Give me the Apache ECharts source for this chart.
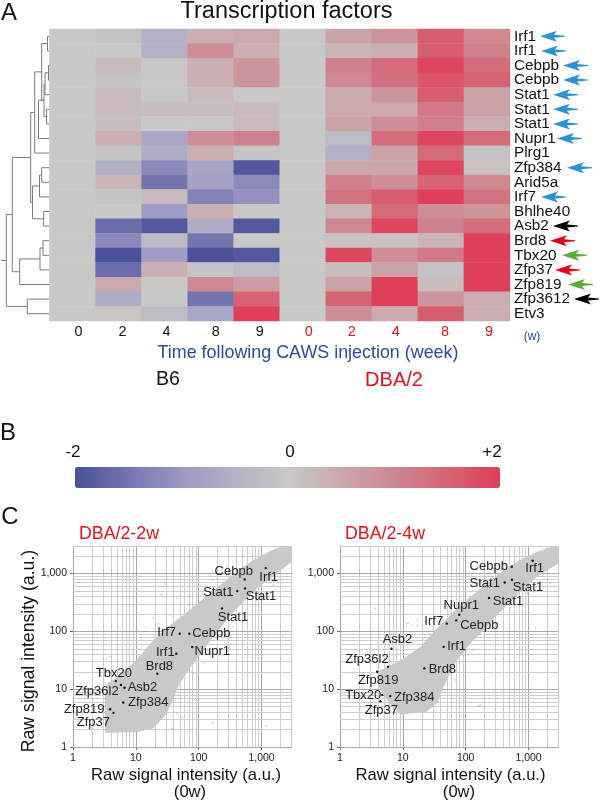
<!DOCTYPE html>
<html><head><meta charset="utf-8">
<style>html,body{margin:0;padding:0;background:#fff}#c{width:600px;height:802px}</style>
<script src="https://cdn.jsdelivr.net/npm/echarts@6/dist/echarts.min.js"></script>
</head><body><div id="c"></div>
<script>
const genes=['Irf1','Irf1','Cebpb','Cebpb','Stat1','Stat1','Stat1','Nupr1','Plrg1','Zfp384','Arid5a','Irf7','Bhlhe40','Asb2','Brd8','Tbx20','Zfp37','Zfp819','Zfp3612','Etv3'];
const weeks=['0','2','4','8','9','0','2','4','8','9'];
const b6=[
[0,-.15,-.5,.4,.5],[0,0,-.5,.9,.4],[0,.2,0,.4,.8],[0,-.1,0,.4,.8],[0,.2,-.03,.2,0],
[0,.2,.15,.15,.2],[0,.15,0,0,.2],[0,.4,-.7,.9,1.1],[0,-.1,-.6,.4,-.1],[0,-.5,-1.2,-.7,-1.9],
[0,.3,-1.5,-.8,-1.2],[0,-.1,.2,-1.3,-1.1],[0,0,-.9,.4,0],[0,-1.6,-1.9,-.6,-1.9],[0,-1.2,-.3,-1.5,0],
[0,-2,-.9,-2,-1.9],[0,-1.6,.4,-.1,-.3],[0,.5,0,1,.7],[0,-.6,0,-1.5,1.5],[0,.05,-.3,-.7,2]];
const dba=[
[0,.6,.8,1.6,1],[0,.3,.4,1.6,1.1],[0,1.1,1.4,1.9,1.4],[0,1,1.3,1.7,1.5],[0,.5,.8,1.6,.6],
[0,.5,.5,1.2,.6],[0,.6,.9,1.1,.4],[0,-.3,1.4,1.9,1.4],[0,-.5,.6,1.4,-.15],[0,.5,.5,1.9,.1],
[0,1.1,.9,1.5,1],[0,1.3,1.6,2,1.3],[0,.3,1.4,.9,.8],[0,1,1.9,1.1,1.4],[0,.1,.1,.3,2],
[0,1.9,.9,1.2,2],[0,.15,.6,-.15,2],[0,.6,2,.2,2],[0,1.5,2,.8,.4],[0,.9,.5,1.6,.4]];
const mergeLeft=[0,2,5,4,22,20,24,25,9,12,28,30,27,14,33,34,32,18,36];
const mergeRight=[1,3,6,21,23,24,7,8,10,13,11,29,31,15,16,17,35,19,37];
const mergeHeight=[2,1,3,4.5,5.5,7.8,11,14.8,7.8,5.8,10,17,18.8,6.5,9.5,29.8,37.2,22.2,43.2];
const arrowRows=[0,1,2,3,4,5,6,7,9,11,13,14,15,16,17,18];
const arrowTips=[540,541,563,563,553,553,553,557,567,541,553,550,562,555,568,574];
const arrowColors=['#2a93d5','#2a93d5','#2a93d5','#2a93d5','#2a93d5','#2a93d5','#2a93d5','#2a93d5','#2a93d5','#2a93d5','#000000','#e3001b','#55b030','#e3001b','#55b030','#000000'];
const decadeLines=[1,10,100,1000];
const minorLines=[2,3,4,5,6,7,8,9,20,30,40,50,60,70,80,90,200,300,400,500,600,700,800,900,2000,3000];
const cloud2w=[[3.23,7.4],[3.52,12.6],[5.6,17.6],[10.3,32],[19,71],[35,129],[57,191],[119,372],[219,632],[403,1075],[741,1711],[1365,2450],[2225,2990],[3000,3000],[3000,1602],[2225,1228],[1365,825],[741,485],[403,250],[219,113],[119,47.5],[73,23],[50,12.6],[38,6.2],[31,3.8],[19,2.1],[10.3,1.8],[3.23,1.77]];
const cloud4w=[[4.12,11],[3.88,20],[6.3,26],[10.3,34],[19,54],[35,113],[57,191],[119,398],[219,676],[403,1148],[741,1711],[1365,2386],[2512,3000],[3000,3000],[3000,1500],[2225,1228],[1365,881],[838,554],[514,326],[315,191],[193,105],[119,62],[73,32],[57,18.8],[44.6,11],[35,5.7],[24,4.08],[9.1,3.62],[5.6,6.5]];
const stray2w=[[94,2115],[28.8,658],[25.5,430],[5.2,122],[1268,87.5],[2140,82],[1194,2.3],[169,2.7],[55,3.26],[37,2.1],[18.8,170],[2640,1620],[1950,1164],[158,39.5],[25.8,437],[60.5,157],[3.9,36.5],[3.4,32.8],[167,2.6],[1208,2.3],[12.4,71],[9.1,47.5],[6.7,30],[14.8,117],[22.8,137],[35,191],[44.6,372],[68,285],[119,519],[171,772],[278,1312],[403,1711],[648,2232],[2500,881],[2860,1007],[1545,631],[830,348],[515,191],[355,120],[219,71],[119,28],[82,18.8],[60,7.4],[44.6,3.8],[37,2.1]];
const stray4w=[[3.56,250],[11.6,137],[14,129],[16.8,157],[3.6,253],[12.2,139],[17,126],[159,5.2],[1270,114],[2190,74],[1236,5.9],[21,71],[27,92],[44.6,157],[50,285],[93,427],[171,724],[278,1230],[648,1950],[2225,676],[2660,1007],[2512,1500],[1545,724],[950,454],[515,250],[315,137],[193,81],[133,47.5],[93,26],[68,14.4],[60,7.9],[171,5.3],[35,4.4]];
const names2w=['Irf1','Cebpb','Stat1','Stat1','Stat1','Irf7','Cebpb','Nupr1','Irf1','Brd8','Tbx20','Zfp36l2','Asb2','Zfp384','Zfp819','Zfp37'];
const points2w=[[1165,1245],[540,793],[412,498],[546,554],[235,250],[49.9,91],[71,91],[79,53.6],[44,41],[22,18.5],[4.8,13.8],[5.8,11.8],[6.6,10.6],[6.3,5.9],[3.9,4.5],[4.4,3.9]];
const offsets2w=[[3,9],[-11,-8],[-19,1],[16,8],[11,9],[-13,-1],[22,0],[20,4],[-11,-1],[2,-7],[-2,-8],[-24,6],[18,0],[25,0],[-26,0],[-20,10]];
const names4w=['Irf1','Cebpb','Stat1','Stat1','Stat1','Nupr1','Irf7','Cebpb','Irf1','Asb2','Zfp36l2','Zfp819','Brd8','Tbx20','Zfp384','Zfp37'];
const points4w=[[1165,1667],[540,1313],[418,703],[546,782],[235,377],[79,194],[50,136],[71,155],[44.6,54],[6.6,50],[5.8,24.5],[3.9,20],[22,22.9],[4.7,7.9],[6.3,7.6],[4.4,6.2]];
const offsets4w=[[2,8],[-23,0],[-20,1],[16,8],[19,3],[2,-9],[-13,-2],[23,5],[13,0],[6,-9],[-21,-7],[1,9],[18,1],[-19,0],[24,1],[1,9]];
const weekShift=[6,4,2,5,3,6,3,1,4,2];

const FONT='"Liberation Sans",Arial,sans-serif';
const heat=[];
genes.forEach((g,r)=>{b6[r].forEach((v,c)=>heat.push([c,r,v]));dba[r].forEach((v,c)=>heat.push([c+5,r,v]));});

// dendrogram: resolve merges into bracket segments
const nodeY={},nodeH={};
genes.forEach((g,i)=>{nodeY[i]=i+.5;nodeH[i]=0;});
const brackets=mergeLeft.map((l,i)=>{
  const r=mergeRight[i],id=genes.length+i;
  nodeH[id]=mergeHeight[i];nodeY[id]=(nodeY[l]+nodeY[r])/2;
  return [nodeH[l],nodeY[l],nodeH[r],nodeY[r],mergeHeight[i]];
});
const rootIdx=brackets.length-1;
function dendroItem(p,api){
  const b=brackets[p.dataIndex],a=api.coord([b[0],b[1]]),c=api.coord([b[4],b[1]]),d=api.coord([b[4],b[3]]),e=api.coord([b[2],b[3]]);
  const children=[{type:'polyline',shape:{points:[a,c,d,e]},style:{stroke:'#7d7d7d',lineWidth:1,fill:null}}];
  if(p.dataIndex===rootIdx){
    const m=(b[1]+b[3])/2;
    children.push({type:'line',shape:{x1:api.coord([b[4],m])[0],y1:api.coord([b[4],m])[1],x2:api.coord([48.5,m])[0],y2:api.coord([48.5,m])[1]},style:{stroke:'#7d7d7d',lineWidth:1}});
  }
  return {type:'group',children};
}
const cloudItem=pts=>(p,api)=>p.dataIndex===0?{type:'polygon',shape:{points:pts.map(q=>api.coord(q))},style:{fill:'#c9c9c9'}}:null;

function gridLines(){
  const mk=(axis,v,major)=>({[axis]:v,lineStyle:{color:major?'#a8a8a8':'#cdcdcd',width:1,type:'solid',opacity:1}});
  const d=[];
  ['xAxis','yAxis'].forEach(a=>{minorLines.forEach(v=>d.push(mk(a,v,false)));decadeLines.forEach(v=>d.push(mk(a,v,true)));});
  return d;
}
function panelSeries(idx,cloud,stray,pts,names,offsets){
  return [
   {type:'scatter',xAxisIndex:idx,yAxisIndex:idx,data:[],z:1,silent:true,
    markLine:{z:1,silent:true,symbol:'none',animation:false,label:{show:false},data:gridLines()}},
   {type:'custom',xAxisIndex:idx,yAxisIndex:idx,data:cloud,z:2,silent:true,renderItem:cloudItem(cloud),encode:{x:0,y:1}},
   {type:'scatter',xAxisIndex:idx,yAxisIndex:idx,data:stray,z:3,silent:true,symbolSize:1.6,itemStyle:{color:'#c4c4c4',opacity:1}},
   {type:'scatter',xAxisIndex:idx,yAxisIndex:idx,z:4,silent:true,symbolSize:2.4,itemStyle:{color:'#111',opacity:1},
    data:pts.map((v,i)=>({value:v,name:names[i],label:{show:true,position:'inside',offset:offsets[i],formatter:names[i],color:'#222',fontSize:13,fontFamily:FONT}}))}
  ];
}
const hidden={show:false};
const tickLabel={color:'#222',fontSize:10.5,fontFamily:FONT,margin:6,showMaxLabel:false,hideOverlap:false,
    formatter:v=>decadeLines.includes(Math.round(v))?Math.round(v).toLocaleString('en-US'):''};
const logAxis=gi=>({type:'log',logBase:10,gridIndex:gi,min:1,max:3000,splitLine:hidden,minorTick:hidden,
  axisLine:{show:true,onZero:false,lineStyle:{color:'#a8a8a8'}},axisTick:{show:true,length:3,lineStyle:{color:'#666'}},
  axisLabel:tickLabel});
const rich={};
weekShift.forEach((s,i)=>{rich['t'+i]={color:i<5?'#111':'#e3101f',fontSize:14.4,fontFamily:FONT,padding:[0,0,0,2*s]};});

const txt=(t,x,y,size,color,align,rot)=>({type:'text',x,y,rotation:rot||0,silent:true,
  style:{text:t,fontSize:size,fontFamily:FONT,fill:color,textAlign:align||'center',textVerticalAlign:'middle'}});
const BLUE='#2a4ba0',RED='#e3101f';

const option={
 animation:false,backgroundColor:'#fff',
 grid:[
  {left:0,top:29,width:49.5,height:292},
  {left:49.5,top:29,width:460.5,height:292},
  {left:510,top:29,width:90,height:292},
  {left:73,top:546,width:218.5,height:201},
  {left:340,top:546,width:218.5,height:201}],
 xAxis:[
  {type:'value',gridIndex:0,min:0,max:49.5,inverse:true,show:false},
  {type:'category',gridIndex:1,data:weeks,axisLine:hidden,axisTick:hidden,splitLine:hidden,
   axisLabel:{interval:0,margin:4,formatter:(v,i)=>`{t${i}|${v}}`,rich}},
  {type:'value',gridIndex:2,min:510,max:600,show:false},
  logAxis(3),logAxis(4)],
 yAxis:[
  {type:'value',gridIndex:0,min:0,max:20,inverse:true,show:false},
  {type:'category',gridIndex:1,data:genes,inverse:true,position:'right',axisLine:hidden,axisTick:hidden,splitLine:hidden,
   axisLabel:{interval:0,margin:4,color:'#111',fontSize:15.3,fontFamily:FONT}},
  {type:'category',gridIndex:2,data:genes,inverse:true,show:false},
  logAxis(3),logAxis(4)],
 visualMap:{type:'continuous',seriesIndex:1,min:-2,max:2,orient:'horizontal',left:75,top:467,itemWidth:21,itemHeight:425,padding:0,
   calculable:false,hoverLink:false,realtime:false,text:null,showLabel:false,
   inRange:{color:['#4a5199','#9c98c4','#c8c8c6','#cd8891','#df3f58']}},
 series:[
  {type:'custom',xAxisIndex:0,yAxisIndex:0,data:brackets,renderItem:dendroItem,silent:true,clip:false},
  {type:'heatmap',xAxisIndex:1,yAxisIndex:1,data:heat,silent:true,progressive:0},
  {type:'scatter',xAxisIndex:2,yAxisIndex:2,silent:true,symbol:'path://M0,5.5 L17,0 L14,4 L25,5 L25,6 L14,7 L17,11 Z',symbolSize:[25,11],symbolOffset:[12.5,0],
   data:arrowTips.map((x,i)=>({value:[x,arrowRows[i]],itemStyle:{color:arrowColors[i],opacity:1}}))},
  ...panelSeries(3,cloud2w,stray2w,points2w,names2w,offsets2w),
  ...panelSeries(4,cloud4w,stray4w,points4w,names4w,offsets4w)
 ],
 graphic:[
  txt('A',9,13,24,'#111'),
  txt('Transcription factors',286.5,12,23.5,'#111'),
  txt('Time following CAWS injection (week)',308,353,17.9,BLUE),
  txt('(w)',532,337,12,BLUE),
  txt('B6',168,380,19.6,'#111'),
  txt('DBA/2',394,380,20,RED),
  txt('B',8,433,24,'#111'),
  txt('-2',73,452,17,'#111'),
  txt('0',290,452,17,'#111'),
  txt('+2',492,452,17,'#111'),
  txt('C',10,517,24,'#111'),
  txt('DBA/2-2w',119,534,17.8,RED),
  txt('DBA/2-4w',385,534,17.8,RED),
  txt('Raw signal intensity (a.u.)',29,651,17.7,'#111','center',Math.PI/2),
  txt('Raw signal intensity (a.u.)',186,775,16.6,'#111'),
  txt('(0w)',190,792,16.6,'#111'),
  txt('Raw signal intensity (a.u.)',450.5,775,16.6,'#111'),
  txt('(0w)',459,792,16.6,'#111')
 ]
};
echarts.init(document.getElementById('c'),null,{renderer:'canvas'}).setOption(option);
</script></body></html>
